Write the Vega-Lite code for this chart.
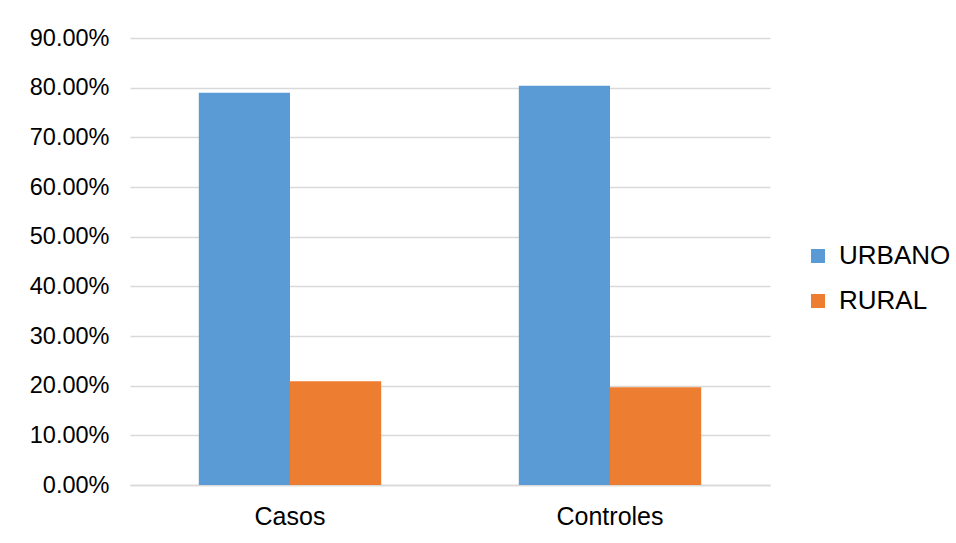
{
  "$schema": "https://vega.github.io/schema/vega-lite/v6.json",
  "autosize": "none",
  "width": 640,
  "height": 447,
  "padding": {"left": 130, "top": 38, "right": 186, "bottom": 58},
  "background": "white",
  "data": {
    "values": [
      {"grupo": "Casos", "zona": "URBANO", "valor": 0.790},
      {"grupo": "Casos", "zona": "RURAL", "valor": 0.209},
      {"grupo": "Controles", "zona": "URBANO", "valor": 0.804},
      {"grupo": "Controles", "zona": "RURAL", "valor": 0.197}
    ]
  },
  "mark": {"type": "bar"},
  "encoding": {
    "x": {
      "field": "grupo",
      "type": "nominal",
      "sort": ["Casos", "Controles"],
      "scale": {"paddingInner": 0.43, "paddingOuter": 0.215},
      "axis": {
        "title": null,
        "labelAngle": 0,
        "labelFont": "Liberation Sans",
        "labelFontSize": 25,
        "labelColor": "#000000",
        "labelPadding": 19,
        "ticks": false,
        "domainColor": "#d9d9d9",
        "domainWidth": 1.5
      }
    },
    "xOffset": {"field": "zona", "type": "nominal", "sort": ["URBANO", "RURAL"], "scale": {"paddingInner": 0, "paddingOuter": 0}},
    "y": {
      "field": "valor",
      "type": "quantitative",
      "scale": {"domain": [0, 0.9]},
      "axis": {
        "title": null,
        "format": ".2%",
        "values": [0, 0.1, 0.2, 0.3, 0.4, 0.5, 0.6, 0.7, 0.8, 0.9],
        "labelFont": "Liberation Sans",
        "labelFontSize": 23.5,
        "labelColor": "#000000",
        "labelPadding": 21,
        "ticks": false,
        "domain": false,
        "gridColor": "#d9d9d9",
        "gridWidth": 1.5
      }
    },
    "color": {
      "field": "zona",
      "type": "nominal",
      "sort": ["URBANO", "RURAL"],
      "scale": {"domain": ["URBANO", "RURAL"], "range": ["#5B9BD5", "#ED7D31"]},
      "legend": {
        "title": null,
        "orient": "none",
        "legendX": 675,
        "legendY": 205,
        "symbolType": "square",
        "symbolSize": 196,
        "symbolStrokeWidth": 0,
        "labelFont": "Liberation Sans",
        "labelFontSize": 26,
        "labelColor": "#000000",
        "rowPadding": 19,
        "labelOffset": 8
      }
    }
  },
  "config": {"view": {"stroke": null}}
}
